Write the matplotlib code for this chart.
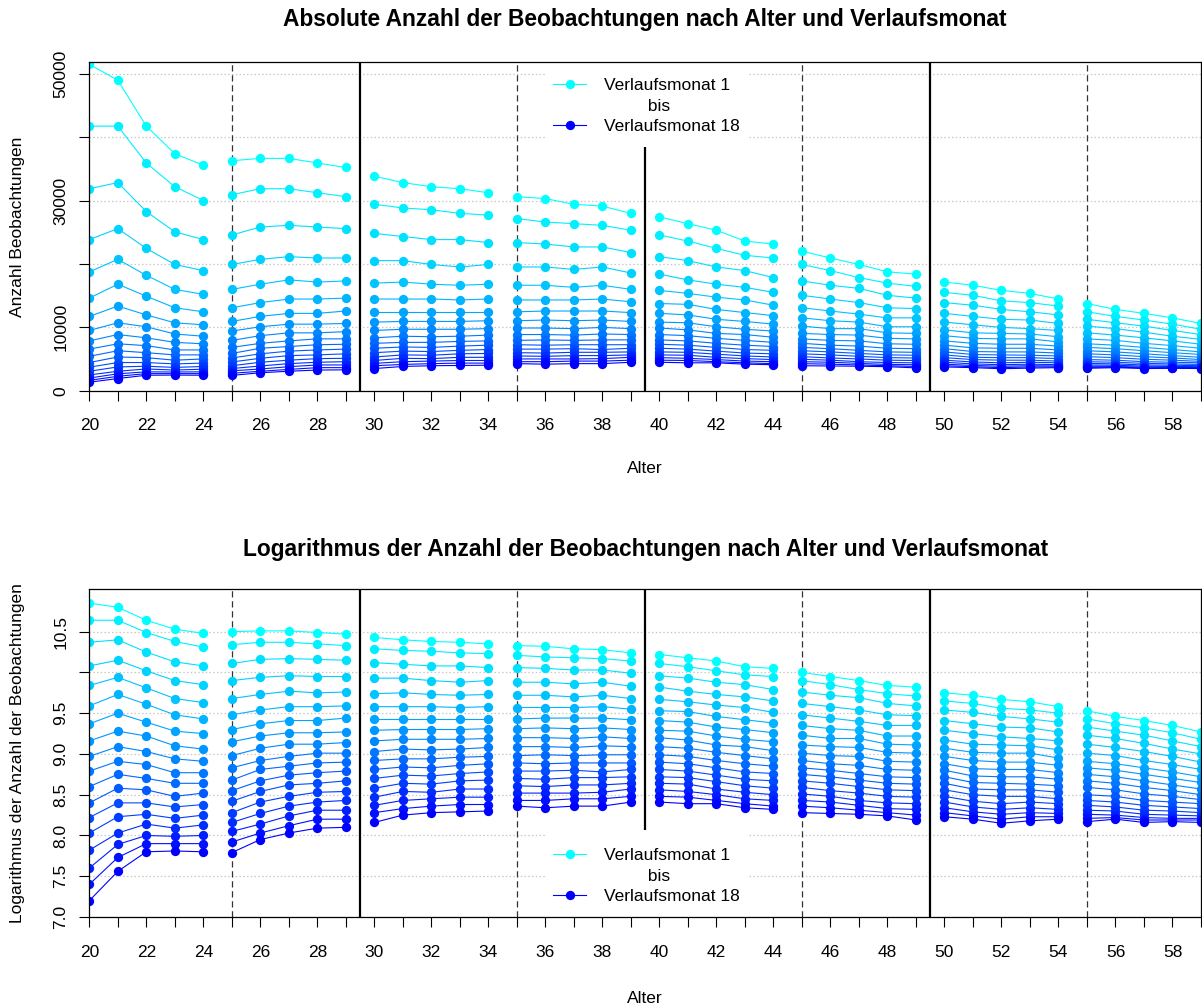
import numpy as np
import matplotlib
matplotlib.use("Agg")
import matplotlib.pyplot as plt
from matplotlib.lines import Line2D
from matplotlib.patches import Rectangle

plt.rcParams['font.family'] = ['Liberation Sans', 'DejaVu Sans']

# Alter 20-59, je 5 Jahre eine Gruppe
alter = list(range(20, 60))
monate = list(range(1, 19))

# log(Anzahl Beobachtungen) je Alter (Zeile), Verlaufsmonat 1..18 (Spalte)
log_20_24 = [
    [10.85, 10.64, 10.37, 10.08, 9.84, 9.59, 9.37, 9.16, 8.97, 8.79, 8.60, 8.40, 8.22, 8.03, 7.82, 7.60, 7.40, 7.20],
    [10.80, 10.64, 10.40, 10.15, 9.94, 9.73, 9.50, 9.28, 9.09, 8.91, 8.75, 8.58, 8.40, 8.23, 8.03, 7.89, 7.73, 7.56],
    [10.64, 10.49, 10.25, 10.02, 9.81, 9.61, 9.39, 9.22, 9.03, 8.87, 8.70, 8.56, 8.40, 8.26, 8.14, 8.00, 7.90, 7.80],
    [10.53, 10.38, 10.13, 9.90, 9.68, 9.48, 9.28, 9.10, 8.94, 8.77, 8.64, 8.48, 8.35, 8.21, 8.09, 7.99, 7.90, 7.81],
    [10.48, 10.31, 10.08, 9.85, 9.63, 9.43, 9.25, 9.06, 8.91, 8.77, 8.64, 8.52, 8.38, 8.25, 8.13, 8.00, 7.90, 7.80],
]
log_25_29 = [
    [10.50, 10.34, 10.11, 9.90, 9.68, 9.48, 9.30, 9.15, 8.98, 8.83, 8.68, 8.55, 8.42, 8.28, 8.16, 8.05, 7.92, 7.79],
    [10.51, 10.37, 10.16, 9.94, 9.73, 9.54, 9.37, 9.22, 9.07, 8.92, 8.81, 8.67, 8.54, 8.41, 8.27, 8.14, 8.03, 7.95],
    [10.51, 10.37, 10.17, 9.96, 9.77, 9.58, 9.41, 9.26, 9.12, 8.97, 8.85, 8.74, 8.62, 8.48, 8.36, 8.24, 8.12, 8.03],
    [10.49, 10.35, 10.16, 9.95, 9.75, 9.58, 9.41, 9.26, 9.12, 9.01, 8.89, 8.77, 8.64, 8.53, 8.41, 8.31, 8.20, 8.09],
    [10.47, 10.33, 10.15, 9.95, 9.76, 9.59, 9.44, 9.27, 9.14, 9.01, 8.90, 8.79, 8.67, 8.54, 8.43, 8.31, 8.20, 8.10],
]
log_30_34 = [
    [10.43, 10.29, 10.12, 9.93, 9.74, 9.58, 9.43, 9.29, 9.16, 9.03, 8.92, 8.81, 8.70, 8.58, 8.47, 8.37, 8.28, 8.16],
    [10.40, 10.27, 10.10, 9.93, 9.75, 9.58, 9.43, 9.30, 9.18, 9.06, 8.94, 8.84, 8.74, 8.64, 8.54, 8.43, 8.33, 8.25],
    [10.38, 10.26, 10.08, 9.90, 9.73, 9.58, 9.43, 9.30, 9.18, 9.05, 8.94, 8.83, 8.73, 8.63, 8.53, 8.45, 8.36, 8.28],
    [10.37, 10.24, 10.08, 9.88, 9.72, 9.57, 9.43, 9.30, 9.18, 9.06, 8.96, 8.86, 8.76, 8.67, 8.57, 8.47, 8.38, 8.29],
    [10.35, 10.23, 10.06, 9.90, 9.73, 9.58, 9.43, 9.31, 9.19, 9.08, 8.97, 8.88, 8.78, 8.68, 8.57, 8.47, 8.38, 8.30],
]
log_35_39 = [
    [10.33, 10.21, 10.06, 9.88, 9.72, 9.57, 9.43, 9.31, 9.20, 9.09, 8.98, 8.89, 8.79, 8.70, 8.61, 8.52, 8.43, 8.36],
    [10.32, 10.19, 10.05, 9.88, 9.72, 9.57, 9.44, 9.32, 9.20, 9.09, 8.99, 8.88, 8.79, 8.69, 8.60, 8.52, 8.43, 8.34],
    [10.29, 10.18, 10.03, 9.86, 9.70, 9.57, 9.44, 9.31, 9.19, 9.08, 8.98, 8.89, 8.80, 8.71, 8.62, 8.52, 8.45, 8.36],
    [10.28, 10.17, 10.03, 9.88, 9.72, 9.58, 9.44, 9.32, 9.21, 9.10, 8.99, 8.89, 8.78, 8.71, 8.62, 8.53, 8.45, 8.36],
    [10.24, 10.14, 9.99, 9.83, 9.68, 9.55, 9.42, 9.30, 9.19, 9.09, 8.99, 8.89, 8.81, 8.72, 8.64, 8.57, 8.48, 8.41],
]
log_40_44 = [
    [10.22, 10.11, 9.96, 9.82, 9.67, 9.53, 9.41, 9.29, 9.20, 9.09, 8.99, 8.90, 8.81, 8.72, 8.64, 8.56, 8.48, 8.41],
    [10.18, 10.07, 9.93, 9.77, 9.64, 9.52, 9.39, 9.28, 9.17, 9.07, 8.97, 8.88, 8.79, 8.71, 8.63, 8.54, 8.47, 8.39],
    [10.14, 10.02, 9.88, 9.73, 9.60, 9.46, 9.33, 9.22, 9.11, 9.02, 8.92, 8.83, 8.74, 8.66, 8.57, 8.50, 8.43, 8.39],
    [10.07, 9.97, 9.85, 9.70, 9.57, 9.42, 9.30, 9.18, 9.09, 8.98, 8.88, 8.78, 8.69, 8.61, 8.53, 8.45, 8.39, 8.34],
    [10.05, 9.95, 9.79, 9.65, 9.51, 9.38, 9.26, 9.15, 9.04, 8.94, 8.85, 8.76, 8.67, 8.58, 8.50, 8.43, 8.36, 8.32],
]
log_45_49 = [
    [10.00, 9.90, 9.76, 9.62, 9.48, 9.35, 9.23, 9.11, 9.01, 8.92, 8.83, 8.75, 8.67, 8.59, 8.51, 8.43, 8.36, 8.28],
    [9.95, 9.85, 9.72, 9.58, 9.44, 9.31, 9.19, 9.09, 8.98, 8.88, 8.80, 8.72, 8.64, 8.55, 8.48, 8.41, 8.34, 8.27],
    [9.90, 9.79, 9.69, 9.54, 9.40, 9.29, 9.19, 9.08, 8.97, 8.86, 8.76, 8.68, 8.60, 8.52, 8.43, 8.37, 8.31, 8.26],
    [9.84, 9.74, 9.62, 9.48, 9.35, 9.22, 9.12, 9.02, 8.91, 8.81, 8.72, 8.64, 8.56, 8.48, 8.40, 8.33, 8.28, 8.24],
    [9.82, 9.71, 9.59, 9.47, 9.35, 9.22, 9.11, 9.01, 8.90, 8.80, 8.71, 8.63, 8.55, 8.47, 8.39, 8.32, 8.25, 8.19],
]
log_50_54 = [
    [9.75, 9.65, 9.54, 9.41, 9.29, 9.17, 9.07, 8.97, 8.88, 8.80, 8.72, 8.64, 8.56, 8.48, 8.41, 8.34, 8.28, 8.23],
    [9.72, 9.62, 9.51, 9.37, 9.25, 9.12, 9.02, 8.92, 8.82, 8.73, 8.65, 8.57, 8.50, 8.42, 8.35, 8.29, 8.24, 8.20],
    [9.67, 9.56, 9.46, 9.33, 9.21, 9.11, 9.01, 8.90, 8.81, 8.72, 8.64, 8.56, 8.48, 8.39, 8.32, 8.26, 8.20, 8.15],
    [9.64, 9.54, 9.43, 9.32, 9.19, 9.10, 9.01, 8.90, 8.81, 8.72, 8.63, 8.56, 8.48, 8.41, 8.34, 8.28, 8.23, 8.18],
    [9.58, 9.50, 9.39, 9.27, 9.16, 9.05, 8.95, 8.86, 8.77, 8.69, 8.61, 8.53, 8.45, 8.39, 8.32, 8.27, 8.23, 8.20],
]
log_55_59 = [
    [9.53, 9.43, 9.33, 9.23, 9.12, 9.01, 8.91, 8.83, 8.75, 8.67, 8.59, 8.50, 8.43, 8.37, 8.31, 8.26, 8.21, 8.17],
    [9.46, 9.37, 9.28, 9.19, 9.08, 8.98, 8.88, 8.80, 8.72, 8.64, 8.56, 8.48, 8.41, 8.35, 8.30, 8.25, 8.22, 8.20],
    [9.41, 9.32, 9.23, 9.13, 9.03, 8.92, 8.83, 8.75, 8.67, 8.59, 8.51, 8.43, 8.37, 8.31, 8.26, 8.22, 8.19, 8.16],
    [9.35, 9.26, 9.16, 9.06, 8.97, 8.87, 8.78, 8.70, 8.62, 8.55, 8.48, 8.41, 8.35, 8.30, 8.25, 8.21, 8.19, 8.17],
    [9.27, 9.18, 9.09, 9.00, 8.90, 8.81, 8.72, 8.65, 8.57, 8.50, 8.44, 8.39, 8.33, 8.28, 8.24, 8.21, 8.19, 8.16],
]

gruppen = [log_20_24, log_25_29, log_30_34, log_35_39,
           log_40_44, log_45_49, log_50_54, log_55_59]

log_n = np.array(sum(gruppen, []))   # 40 x 18
anzahl = np.exp(log_n)
alter = np.array(alter)

# Farbverlauf cyan -> blau
n_m = len(monate)
farben = [(0.0, 1.0 - i / (n_m - 1), 1.0) for i in range(n_m)]

W, H = 1202, 1005
fig = plt.figure(figsize=(W / 100, H / 100), dpi=100)
left = 89.3 / W
width = (1201 - 89.3) / W
ax1 = fig.add_axes([left, 1 - 390.7 / H, width, (390.7 - 62) / H])
ax2 = fig.add_axes([left, 1 - 917 / H, width, (917 - 589.3) / H])


def panel(ax, werte, ylim, yticks, ylabels, titel, ylab, leg_y, leg_box, pad):
    ax.set_xlim(20, 59)
    ax.set_ylim(*ylim)
    for y in yticks:
        ax.axhline(y, color='#c8c8c8', lw=0.9, ls=(0, (1.2, 1.8)), zorder=1)
    for x in [25, 35, 45, 55]:
        ax.axvline(x, color='#333333', lw=0.9, ls=(0, (5, 3)), zorder=2)
    for x in [29.5, 39.5, 49.5]:
        ax.axvline(x, color='black', lw=1.6, zorder=2)

    for g in range(len(gruppen)):
        idx = slice(g * 5, g * 5 + 5)
        for m in range(n_m):
            ax.plot(alter[idx], werte[idx, m], color=farben[m], lw=0.8,
                    marker='o', markersize=6.7, markeredgewidth=0, zorder=3)

    ax.set_xticks(range(20, 60))
    ax.set_xticklabels([str(a) if a % 2 == 0 else '' for a in range(20, 60)])
    ax.set_yticks(yticks)
    ax.set_yticklabels(ylabels, rotation=90, va='center')
    ax.tick_params(axis='x', length=7, width=0.8, pad=13, labelsize=12.5)
    ax.tick_params(axis='y', length=7, width=0.8, pad=8, labelsize=12.5)
    for s in ax.spines.values():
        s.set_linewidth(0.9)
        s.set_zorder(6)

    ax.set_title(titel, fontsize=16.4, fontweight='bold', pad=pad)
    ax.set_xlabel('Alter', fontsize=12.5)
    ax.set_ylabel(ylab, fontsize=12.5)
    ax.yaxis.set_label_coords(-0.0578, 0.5)

    # weisser Hintergrund der Legende (ohne Rahmen)
    ax.add_patch(Rectangle((leg_box[0], leg_box[1]), leg_box[2], leg_box[3],
                           transform=ax.transAxes, facecolor='white',
                           edgecolor='none', zorder=4))
    handles = [
        Line2D([], [], color=farben[0], lw=0.8, marker='o', markersize=6.7, markeredgewidth=0),
        Line2D([], [], linestyle='none'),
        Line2D([], [], color=farben[-1], lw=0.8, marker='o', markersize=6.7, markeredgewidth=0),
    ]
    leg = ax.legend(handles, ['Verlaufsmonat 1', '         bis', 'Verlaufsmonat 18'],
                    loc='center', bbox_to_anchor=(0.501, leg_y), fontsize=12.5,
                    frameon=False, labelspacing=0.3, handlelength=1.9,
                    handletextpad=1.0, borderpad=0.3)
    leg.set_zorder(5)


panel(ax1, anzahl, (0, 51900), [0, 10000, 20000, 30000, 40000, 50000],
      ['0', '10000', '', '30000', '', '50000'],
      'Absolute Anzahl der Beobachtungen nach Alter und Verlaufsmonat',
      'Anzahl Beobachtungen', 0.866, (0.41, 0.741, 0.1826, 0.259), 26)
ax1.xaxis.set_label_coords(0.5, -0.214)

panel(ax2, log_n, (7.0, 11.02), [7.0, 7.5, 8.0, 8.5, 9.0, 9.5, 10.0, 10.5],
      ['7.0', '7.5', '8.0', '8.5', '9.0', '9.5', '', '10.5'],
      'Logarithmus der Anzahl der Beobachtungen nach Alter und Verlaufsmonat',
      'Logarithmus der Anzahl der Beobachtungen', 0.125, (0.41, 0.0, 0.1826, 0.2655), 24)
ax2.xaxis.set_label_coords(0.5, -0.226)

fig.savefig('out.png', dpi=100)
